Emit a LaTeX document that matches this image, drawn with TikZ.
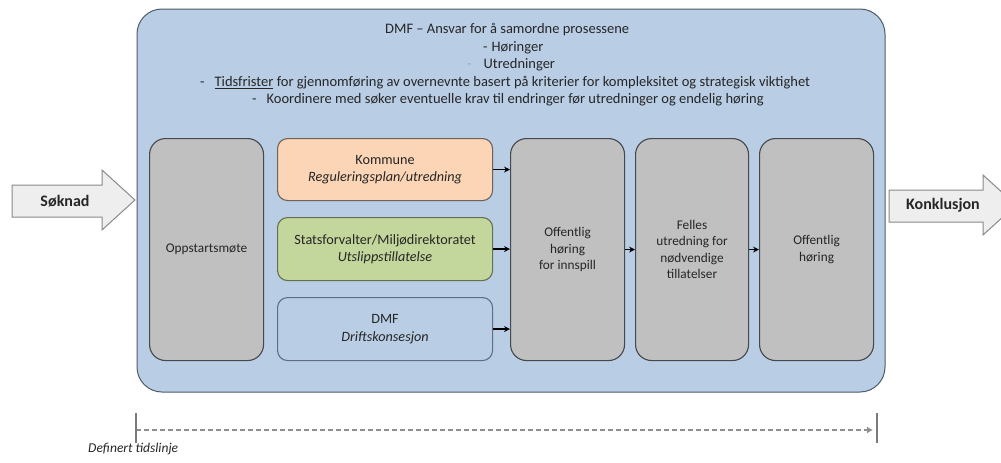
\documentclass[tikz,border=0pt]{standalone}
\usepackage{fontspec}
\setmainfont{Carlito}
\usetikzlibrary{arrows.meta}
\definecolor{boxblue}{HTML}{B9CDE5}
\definecolor{outerline}{HTML}{4F5B6B}
\definecolor{greyfill}{HTML}{C0C0C0}
\definecolor{greyline}{HTML}{45484C}
\definecolor{peach}{HTML}{FBD5B5}
\definecolor{peachline}{HTML}{6E6259}
\definecolor{greenfill}{HTML}{C3D69B}
\definecolor{greenline}{HTML}{66704F}
\definecolor{dmfline}{HTML}{5F6E85}
\definecolor{txt}{HTML}{262626}
\definecolor{arrowfill}{HTML}{EEEEEE}
\definecolor{arrowline}{HTML}{8A8A8A}
\definecolor{tlgrey}{HTML}{8F8F8F}
\begin{document}
\begin{tikzpicture}[x=1pt,y=-1pt,
  outerbox/.style={draw=outerline, fill=boxblue, rounded corners=25pt, line width=1pt},
  greybox/.style={draw=greyline, fill=greyfill, rounded corners=16pt, line width=1.1pt,
    align=center, text=txt, font=\fontsize{13.3}{16.5}\selectfont, inner sep=0pt, anchor=north west},
  smallbox/.style={rounded corners=10pt, line width=1.1pt, align=center, text=txt,
    font=\fontsize{14.2}{17.5}\selectfont, inner sep=0pt, anchor=north west,
    minimum width=215pt, minimum height=62pt},
  headline/.style={anchor=west, text=txt, font=\fontsize{14.5}{17}\selectfont, inner sep=0pt},
  bigarrow/.style={draw=arrowline, fill=arrowfill, line width=1pt, line join=miter},
  arrowtext/.style={text=txt, font=\bfseries\fontsize{16}{18}\selectfont, inner sep=0pt},
  conn/.style={draw=black, line width=1.3pt, -{Stealth[length=6pt,width=6pt]}},
  tick/.style={draw=tlgrey!85!black, line width=2.4pt},
  timeline/.style={draw=tlgrey, line width=2.2pt, dash pattern=on 5pt off 3pt,
    -{Latex[length=6pt,width=7pt]}},
]
\clip (0,0) rectangle (1001,463);
\fill[white] (0,0) rectangle (1001,463);

% outer box
\draw[outerbox] (137,9) rectangle (885,392);

% header text
\node[headline] (h1) at (385,30) {DMF – Ansvar for å samordne prosessene};
\node[headline] (h2) at (483,48) {-\hspace{4pt}Høringer};
\node[headline] (h3) at (467,65) {{\color{gray!70}-}\hspace{12pt}Utredninger};
\node[headline] (h4) at (200,83) {-\hspace{10pt}\underline{Tidsfrister} for gjennomføring av overnevnte basert på kriterier for kompleksitet og strategisk viktighet};
\node[headline] (h5) at (252,100) {-\hspace{10pt}Koordinere med søker eventuelle krav til endringer før utredninger og endelig høring};

% grey process boxes
\node[greybox, minimum width=114pt, minimum height=222pt] (opp) at (149,138) {Oppstartsmøte};
\node[greybox, minimum width=114pt, minimum height=222pt] (ohi) at (510,138) {Offentlig\\høring\\for innspill};
\node[greybox, minimum width=113pt, minimum height=222pt] (fel) at (635,138) {Felles\\utredning for\\nødvendige\\tillatelser};
\node[greybox, minimum width=114pt, minimum height=222pt] (oh) at (759,138) {Offentlig\\høring};

% coloured boxes
\node[smallbox, draw=peachline, fill=peach] (kom) at (277,138) {Kommune\\\textit{Reguleringsplan/utredning}};
\node[smallbox, draw=greenline, fill=greenfill, minimum height=63pt] (sta) at (277,217) {Statsforvalter/Miljødirektoratet\\\textit{Utslippstillatelse}};
\node[smallbox, draw=dmfline, fill=boxblue, minimum height=63pt] (dmf) at (277,297) {DMF\\\textit{Driftskonsesjon}};

% connectors
\draw[conn] (kom.east) -- (kom.east -| ohi.west);
\draw[conn] (sta.east) -- (sta.east -| ohi.west);
\draw[conn] (dmf.east) -- (dmf.east -| ohi.west);
\draw[conn] (ohi.east) -- (fel.west);
\draw[conn] (fel.east) -- (oh.west);

% big arrows
\draw[bigarrow] (12,185) -- (102,185) -- (102,170) -- (135,200) -- (102,230) -- (102,217) -- (12,217) -- cycle;
\node[arrowtext] (sok) at (65,201) {Søknad};
\draw[bigarrow] (889,190) -- (983,190) -- (983,175) -- (1016,205) -- (983,235) -- (983,222) -- (889,222) -- cycle;
\node[arrowtext] (kon) at (943,205) {Konklusjon};

% timeline
\coordinate (tlA) at (136,430);
\coordinate (tlB) at (873,430);
\coordinate (tkA1) at (136,413);
\coordinate (tkA2) at (136,443);
\coordinate (tkB1) at (877,413);
\coordinate (tkB2) at (877,443);
\draw[timeline] (tlA) -- (tlB);
\draw[tick] (tkA1) -- (tkA2);
\draw[tick] (tkB1) -- (tkB2);
\node[anchor=west, text=txt, inner sep=0pt, font=\itshape\fontsize{13.5}{15}\selectfont] (def) at (88,449) {Definert tidslinje};
\end{tikzpicture}
\end{document}
